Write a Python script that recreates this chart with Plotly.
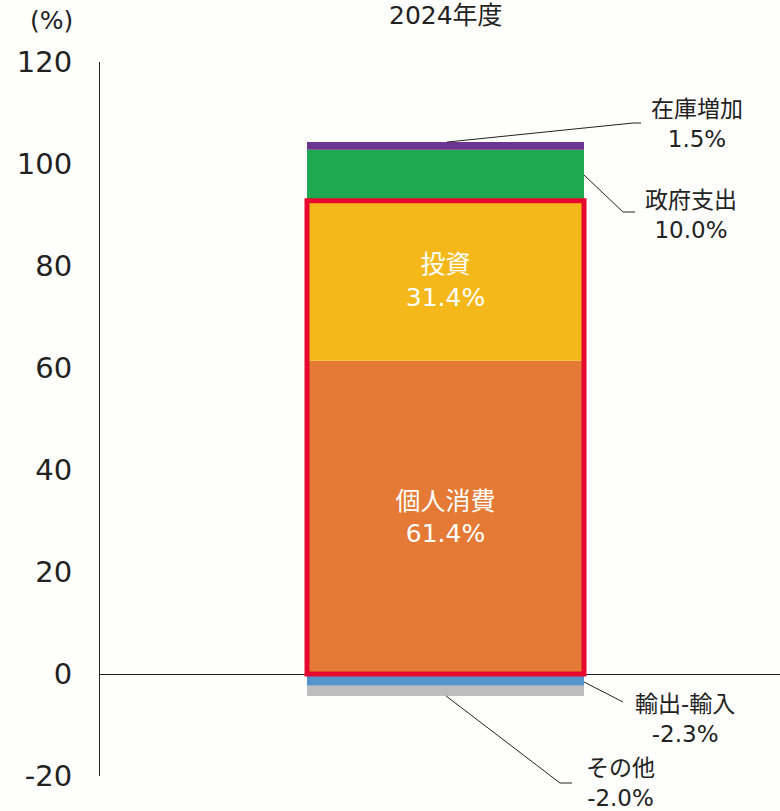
import plotly.graph_objects as go

# ---- data ----
year_label = "2024年度"
components = ["個人消費", "投資", "政府支出", "在庫増加", "輸出-輸入", "その他"]
values = [61.4, 31.4, 10.0, 1.5, -2.3, -2.0]
colors = ["#E47A35", "#F4B81B", "#1EA850", "#6B3590", "#5593CC", "#BDBDBD"]
y_ticks = [-20, 0, 20, 40, 60, 80, 100, 120]
y_tick_text = ["-20", "0", "20", "40", "60", "80", "100", "120"]

FONT = "DejaVu Sans, Noto Sans CJK JP"
W, H = 780, 811
PL, PR, PT, PB = 100, 780, 62, 776  # plot area in page pixels
ML, MR, MT, MB = PL, W - PR, PT, H - PB
YMIN, YMAX = -20, 120
BAR_L, BAR_R = 307, 584  # page pixel edges of bar
px_per_unit = BAR_R - BAR_L
x0 = -0.5 - (BAR_L - PL) / px_per_unit
x1 = x0 + (PR - PL) / px_per_unit

def px(p):  # page pixel x -> paper
    return (p - PL) / (PR - PL)

def py(p):  # page pixel y -> paper
    return (PB - p) / (PB - PT)

def vy(v):  # data value -> paper
    return (v - YMIN) / (YMAX - YMIN)

fig = go.Figure()
inside = {"個人消費", "投資"}
for name, v, c in zip(components, values, colors):
    fig.add_trace(go.Bar(
        x=[0], y=[v], name=name, width=1, marker=dict(color=c, line=dict(width=0)),
        text=[f"{name}<br>{v:.1f}%"] if name in inside else None,
        textposition="inside" if name in inside else "none",
        insidetextanchor="middle",
        textfont=dict(color="white", size=25, family=FONT),
        hoverinfo="skip",
    ))

# red frame around 個人消費 + 投資
top = values[0] + values[1]
fig.add_shape(type="rect", xref="x", yref="y", x0=-0.5, x1=0.5, y0=0, y1=top,
              line=dict(color="#E6082E", width=5), fillcolor="rgba(0,0,0,0)")

# cumulative tops for leader anchors
cum_pos = 0
tops = {}
for n, v in zip(components, values):
    if v > 0:
        cum_pos += v
        tops[n] = cum_pos
cum_neg = 0
for n, v in zip(components, values):
    if v < 0:
        cum_neg += v
        tops[n] = cum_neg

def leader(points):
    path = "M " + " L ".join(f"{x},{y}" for x, y in points)
    fig.add_shape(type="path", xref="paper", yref="paper", path=path,
                  line=dict(color="#222222", width=1))

leader([(px(447), vy(tops["在庫増加"])), (px(633), py(123)), (px(641), py(123))])
leader([(px(584), py(175)), (px(623), py(212)), (px(635), py(212))])
leader([(px(584), py(682)), (px(623), py(702))])
leader([(px(446), vy(tops["その他"])), (px(560), py(783)), (px(572), py(783))])

labels = [("在庫増加", 697, 124), ("政府支出", 691, 215), ("輸出-輸入", 685, 719), ("その他", 620, 783)]
for name, lx, ly in labels:
    v = values[components.index(name)]
    fig.add_annotation(xref="paper", yref="paper", x=px(lx), y=py(ly), showarrow=False,
                       text=f"{name}<br>{v:.1f}%", xanchor="center", yanchor="middle",
                       font=dict(size=23, color="#222222", family=FONT), align="center")

fig.add_annotation(xref="paper", yref="paper", x=px(446), y=py(15), text=year_label,
                   showarrow=False, xanchor="center", yanchor="middle",
                   font=dict(size=25, color="#222222", family=FONT))
fig.add_annotation(xref="paper", yref="paper", x=px(51), y=py(21), text="(%)",
                   showarrow=False, xanchor="center", yanchor="middle",
                   font=dict(size=25, color="#222222", family=FONT))

fig.update_layout(
    width=W, height=H, margin=dict(l=ML, r=MR, t=MT, b=MB),
    barmode="relative", showlegend=False,
    paper_bgcolor="#FEFEFC", plot_bgcolor="#FEFEFC",
    xaxis=dict(range=[x0, x1], visible=False, fixedrange=True),
    yaxis=dict(range=[YMIN, YMAX], tickvals=y_ticks, ticktext=y_tick_text, showgrid=False,
               showline=True, linecolor="#222222", linewidth=1,
               zeroline=True, zerolinecolor="#222222", zerolinewidth=1,
               ticks="", ticklabelstandoff=21, fixedrange=True,
               tickfont=dict(size=29, color="#222222", family=FONT)),
)

fig.write_html("out.html", config={"displayModeBar": False},
               post_script="document.body.style.margin='0';document.body.style.overflow='hidden';")
